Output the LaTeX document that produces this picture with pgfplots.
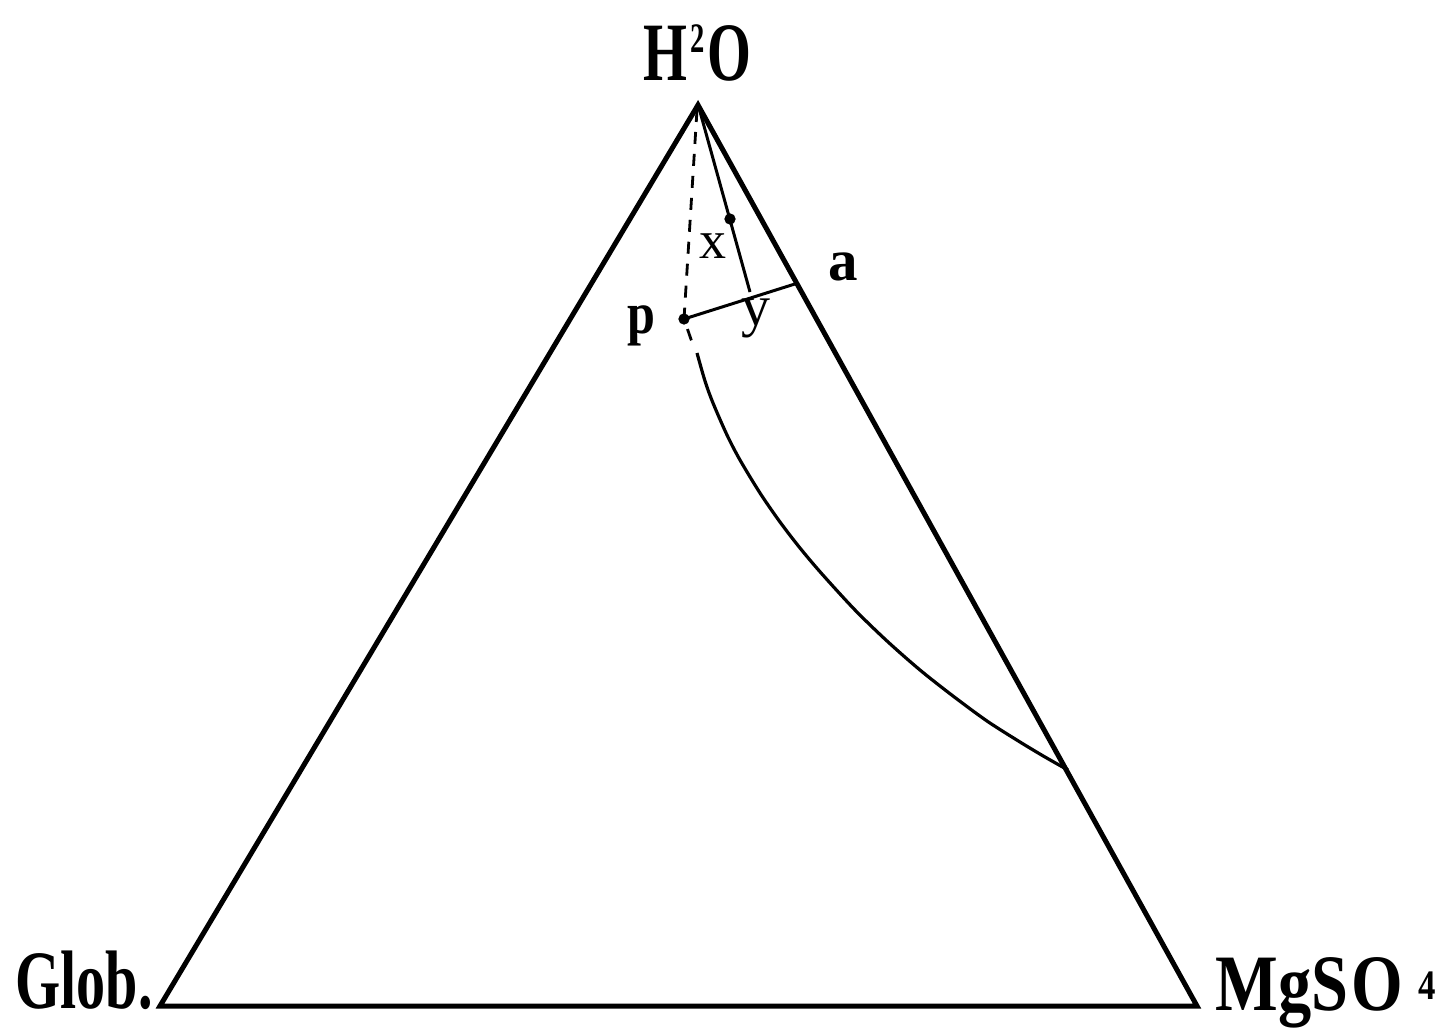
\documentclass[border=0pt]{standalone}
\usepackage{graphicx}
\usepackage{fontspec}
\setmainfont{Liberation Serif}
\usepackage{pgfplots}
\pgfplotsset{compat=1.18}
\begin{document}
\begin{tikzpicture}
\begin{axis}[
  scale only axis, width=723pt, height=512.5pt,
  xmin=0, xmax=1446, ymin=0, ymax=1025, y dir=reverse,
  hide axis, clip=false]
% frame (keeps the page the size of the picture)
\addplot[draw=none] coordinates {(0,0) (1446,1025)};
% triangle
\addplot[black, line width=2.5pt, line join=miter] coordinates {(698,105) (160,1006) (1197,1006)} -- cycle;
% dashed line from the apex to p
\addplot[black, line width=1.4pt, dash pattern=on 6pt off 5pt] coordinates {(697,110) (684,319) (694,348)};
% line from the apex through x to y
\addplot[black, line width=1.5pt] coordinates {(699,108) (750,292)};
% line p -- a
\addplot[black, line width=1.5pt] coordinates {(684,319) (798,283)};
% curve
\addplot[black, line width=1.6pt, smooth] coordinates {
 (697,353) (705,381) (713,403) (727,435) (740,460) (760,493) (780,522)
 (800,548) (822,574) (855,610) (887,641) (920,670) (953,696) (987,721)
 (1020,742) (1045,757) (1068,770)};
% dots
\addplot[only marks, mark=*, mark size=2.6pt, black] coordinates {(684,319) (730,219)};
% labels
\node[anchor=base west, inner sep=0] at (axis cs:643,80)
  {\fontsize{41.5}{41.5}\selectfont\bfseries\scalebox{0.68}[1]{H\kern2.5pt\raisebox{14pt}{\fontsize{21}{21}\selectfont 2}\kern2pt O}};
\node[anchor=base west, inner sep=0] at (axis cs:15,1008)
  {\fontsize{41.5}{41.5}\selectfont\bfseries\scalebox{0.70}[1]{Glob.}};
\node[anchor=base west, inner sep=0] at (axis cs:1215,1010)
  {\fontsize{40}{40}\selectfont\bfseries\scalebox{0.83}[1]{MgS\kern2pt O\kern9pt\raisebox{5.5pt}{\fontsize{21}{21}\selectfont 4}}};
\node[anchor=base, inner sep=0] at (axis cs:843,280)
  {\fontsize{29.5}{29.5}\selectfont\bfseries a};
\node[anchor=base, inner sep=0] at (axis cs:641,333)
  {\fontsize{29.5}{29.5}\selectfont\bfseries\scalebox{0.85}[1]{p}};
\node[anchor=base, inner sep=0] at (axis cs:713,258)
  {\fontsize{27}{27}\selectfont x};
\node[anchor=base, inner sep=0] at (axis cs:756,325)
  {\fontsize{29}{29}\selectfont y};
\end{axis}
\end{tikzpicture}
\end{document}
